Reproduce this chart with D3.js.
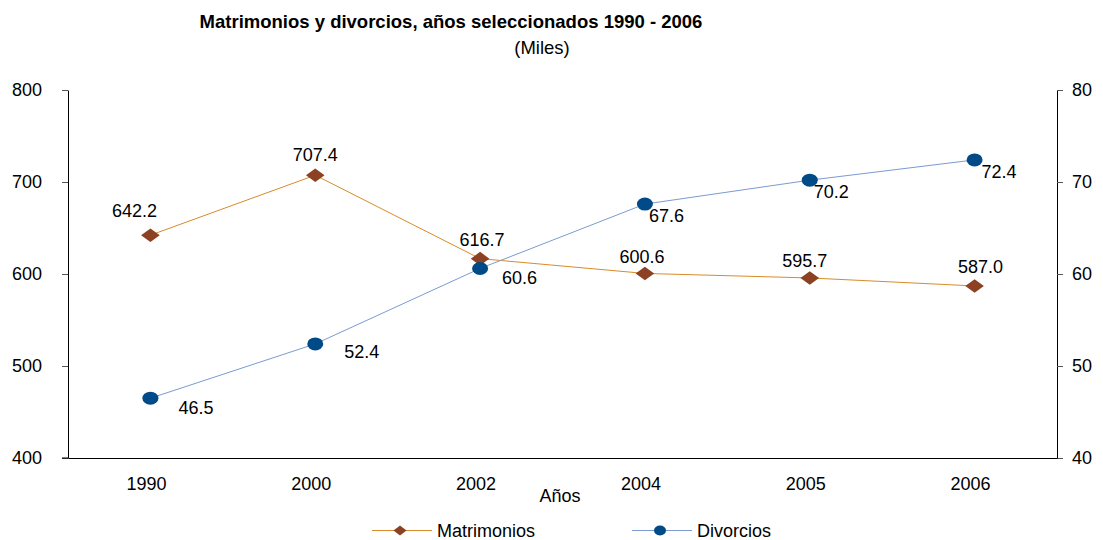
<!DOCTYPE html>
<html>
<head>
<meta charset="utf-8">
<script src="https://cdn.jsdelivr.net/npm/d3@7"></script>
<style>
  body { margin: 0; background: #fff; }
  text { font-family: "Liberation Sans", Arial, sans-serif; fill: #000; }
</style>
</head>
<body>
<script>
// chart data
let years = ['1990', '2000', '2002', '2004', '2005', '2006']
let matrimonios = [642.2, 707.4, 616.7, 600.6, 595.7, 587.0]
let divorcios = [46.5, 52.4, 60.6, 67.6, 70.2, 72.4]
let leftTicks = [400, 500, 600, 700, 800]
let rightTicks = [40, 50, 60, 70, 80]

// label nudges (pixels) as placed in the original chart
let matNudge = [[-16, -18], [0, -14], [2, -13], [-3, -10], [-5, -11], [6, -13]]
let divNudge = [[28, 16], [29, 14], [22, 16], [4, 18], [4, 18], [7, 18]]

// measurements
let m = {
  width: 1103,
  height: 540,
  left: 68,
  right: 1057,
  top: 90,
  bottom: 458,
  font: '18px',
}

let colMat = '#d98b2b'
let colMatDot = '#8b4122'
let colDiv = '#7b9bd1'
let colDivDot = '#004a87'

let svg = d3.select('body')
  .append('svg')
  .attr('width', m.width)
  .attr('height', m.height)

let xScale = d3.scaleBand()
  .domain(years)
  .range([m.left, m.right])

let yLeft = d3.scaleLinear()
  .domain([400, 800])
  .range([m.bottom, m.top])

let yRight = d3.scaleLinear()
  .domain([40, 80])
  .range([m.bottom, m.top])

function cx(d, i) { return xScale(years[i]) + xScale.bandwidth() / 2 }

// title
svg.append('text')
  .attr('x', 451).attr('y', 28)
  .attr('text-anchor', 'middle')
  .style('font-weight', 'bold')
  .style('font-size', '18.5px')
  .text('Matrimonios y divorcios, años seleccionados 1990 - 2006')

svg.append('text')
  .attr('x', 542).attr('y', 54)
  .attr('text-anchor', 'middle')
  .style('font-size', '18.5px')
  .text('(Miles)')

// axes
let leftAxis = svg.append('g')
  .attr('transform', 'translate(' + m.left + ',0)')
  .call(d3.axisLeft(yLeft).tickValues(leftTicks).tickSize(6).tickSizeOuter(0))

let rightAxis = svg.append('g')
  .attr('transform', 'translate(' + m.right + ',0)')
  .call(d3.axisRight(yRight).tickValues(rightTicks).tickSize(6).tickSizeOuter(0).tickPadding(9))

let bottomAxis = svg.append('g')
  .attr('transform', 'translate(0,' + m.bottom + ')')
  .call(d3.axisBottom(xScale).tickSize(0).tickSizeOuter(0).tickPadding(19))

svg.selectAll('.domain').attr('stroke', '#000')
svg.selectAll('.tick line').attr('stroke', '#555')
svg.selectAll('.tick text').style('font-size', m.font).attr('fill', '#000')
leftAxis.selectAll('.tick text').attr('x', -26)
bottomAxis.selectAll('.tick text').attr('x', -4)

// extend bottom line a bit to the left like the original
svg.append('line')
  .attr('x1', m.left - 6).attr('x2', m.left)
  .attr('y1', m.bottom).attr('y2', m.bottom)
  .attr('stroke', '#000')

svg.append('text')
  .attr('x', 560).attr('y', 502)
  .attr('text-anchor', 'middle')
  .style('font-size', m.font)
  .text('Años')

// lines
let lineMat = d3.line()
  .x(cx)
  .y(function(d) { return yLeft(d) })

let lineDiv = d3.line()
  .x(cx)
  .y(function(d) { return yRight(d) })

svg.append('path')
  .datum(matrimonios)
  .attr('d', lineMat)
  .attr('fill', 'none')
  .attr('stroke', colMat)
  .attr('stroke-width', 1)

svg.append('path')
  .datum(divorcios)
  .attr('d', lineDiv)
  .attr('fill', 'none')
  .attr('stroke', colDiv)
  .attr('stroke-width', 1)

// markers
let diamond = 'M-9.3,0L0,-6.8L9.3,0L0,6.8Z'

svg.selectAll('.mat')
  .data(matrimonios)
  .enter()
  .append('path')
    .attr('class', 'mat')
    .attr('d', diamond)
    .attr('transform', function(d, i) { return 'translate(' + cx(d, i) + ',' + yLeft(d) + ')' })
    .attr('fill', colMatDot)

svg.selectAll('.div')
  .data(divorcios)
  .enter()
  .append('ellipse')
    .attr('class', 'div')
    .attr('cx', cx)
    .attr('cy', function(d) { return yRight(d) })
    .attr('rx', 8)
    .attr('ry', 6.5)
    .attr('fill', colDivDot)

// labels
svg.selectAll('.matLabel')
  .data(matrimonios)
  .enter()
  .append('text')
    .attr('x', function(d, i) { return cx(d, i) + matNudge[i][0] })
    .attr('y', function(d, i) { return yLeft(d) + matNudge[i][1] })
    .attr('text-anchor', 'middle')
    .style('font-size', m.font)
    .text(function(d) { return d.toFixed(1) })

svg.selectAll('.divLabel')
  .data(divorcios)
  .enter()
  .append('text')
    .attr('x', function(d, i) { return cx(d, i) + divNudge[i][0] })
    .attr('y', function(d, i) { return yRight(d) + divNudge[i][1] })
    .style('font-size', m.font)
    .text(function(d) { return d.toFixed(1) })

// legend
let legend = [
  { name: 'Matrimonios', x: 372, line: colMat, dot: colMatDot, shape: 'diamond' },
  { name: 'Divorcios', x: 632, line: colDiv, dot: colDivDot, shape: 'circle' },
]
let ly = 530.5

legend.forEach(function(l) {
  svg.append('line')
    .attr('x1', l.x).attr('x2', l.x + 60)
    .attr('y1', ly).attr('y2', ly)
    .attr('stroke', l.line)
  if (l.shape == 'diamond') {
    svg.append('path')
      .attr('d', 'M-6.5,0L0,-5L6.5,0L0,5Z')
      .attr('transform', 'translate(' + (l.x + 28) + ',' + ly + ')')
      .attr('fill', l.dot)
  } else {
    svg.append('ellipse')
      .attr('cx', l.x + 28).attr('cy', ly)
      .attr('rx', 6).attr('ry', 5)
      .attr('fill', l.dot)
  }
  svg.append('text')
    .attr('x', l.x + 65).attr('y', ly + 6.5)
    .style('font-size', m.font)
    .text(l.name)
})
</script>
</body>
</html>
